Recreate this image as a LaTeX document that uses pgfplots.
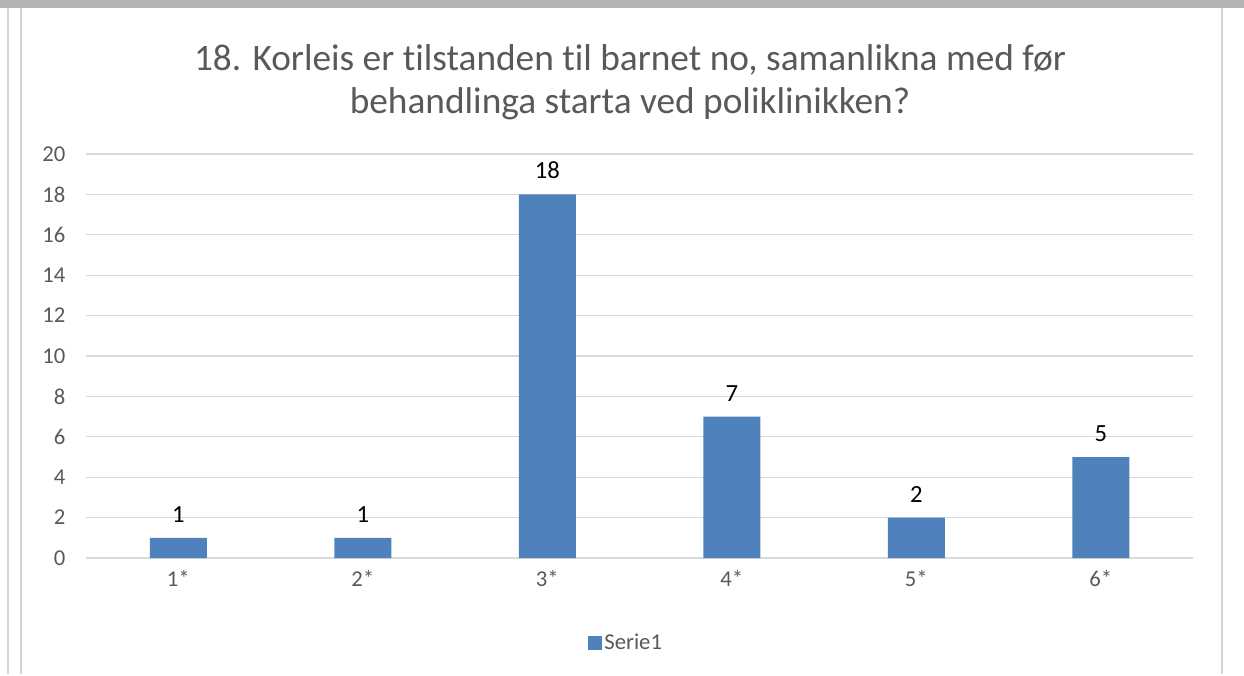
\documentclass[border=0pt]{standalone}
\usepackage{pgfplots}
\pgfplotsset{compat=1.18}
\usepackage{fontspec}
\setmainfont{Carlito}[Ligatures=NoCommon]
\definecolor{barblue}{HTML}{4F81BD}
\definecolor{txtgray}{HTML}{595959}
\definecolor{gridgray}{HTML}{D9D9D9}
\definecolor{topgray}{HTML}{B4B4B4}
\definecolor{framegray}{HTML}{D4D4D4}
\begin{document}
\begin{tikzpicture}[x=0.75pt,y=0.75pt]
% page frame (1 unit = 1 px of the reference)
\path (0,0) rectangle (1244,674);
\fill[topgray] (0,666) rectangle (1244,674);
\draw[framegray,line width=1.5pt] (8,0) -- (8,666);
\draw[framegray,line width=1pt] (21,0) -- (21,666);
\draw[framegray,line width=1.5pt] (1222,0) -- (1222,666);
\node[text=txtgray,font=\fontsize{28}{32.5}\selectfont,align=center] at (630,592)
  {18. Korleis er tilstanden til barnet no, samanlikna med før\\behandlinga starta ved poliklinikken?};
\begin{axis}[
    at={(64.5pt,87pt)}, anchor=south west,
    width=830.25pt, height=303pt, scale only axis,
    ybar, bar width=42.75pt,
    xmin=0.5, xmax=6.5, ymin=0, ymax=20,
    ytick={0,2,...,20},
    xtick=data,
    xticklabels={1*,2*,3*,4*,5*,6*},
    ymajorgrids=true,
    grid style={gridgray, line width=0.9pt},
    axis line style={draw=none},
    major tick length=0pt,
    /pgf/number format/assume math mode=true,
    tick label style={text=txtgray, font=\fontsize{17}{20}\selectfont},
    yticklabel style={xshift=-12pt},
    xticklabel style={yshift=-6pt},
    nodes near coords,
    nodes near coords style={text=black, font=\fontsize{18.5}{22}\selectfont, yshift=8pt},
    legend style={at={(0.488,-0.21)}, anchor=center, draw=none,
        font=\fontsize{17}{20}\selectfont, text=txtgray},
    legend image code/.code={\fill[barblue] (0pt,-5.25pt) rectangle (10.5pt,5.25pt);},
  ]
\addplot[fill=barblue, draw=none] coordinates {(1,1) (2,1) (3,18) (4,7) (5,2) (6,5)};
\legend{Serie1}
\end{axis}
\end{tikzpicture}
\end{document}
